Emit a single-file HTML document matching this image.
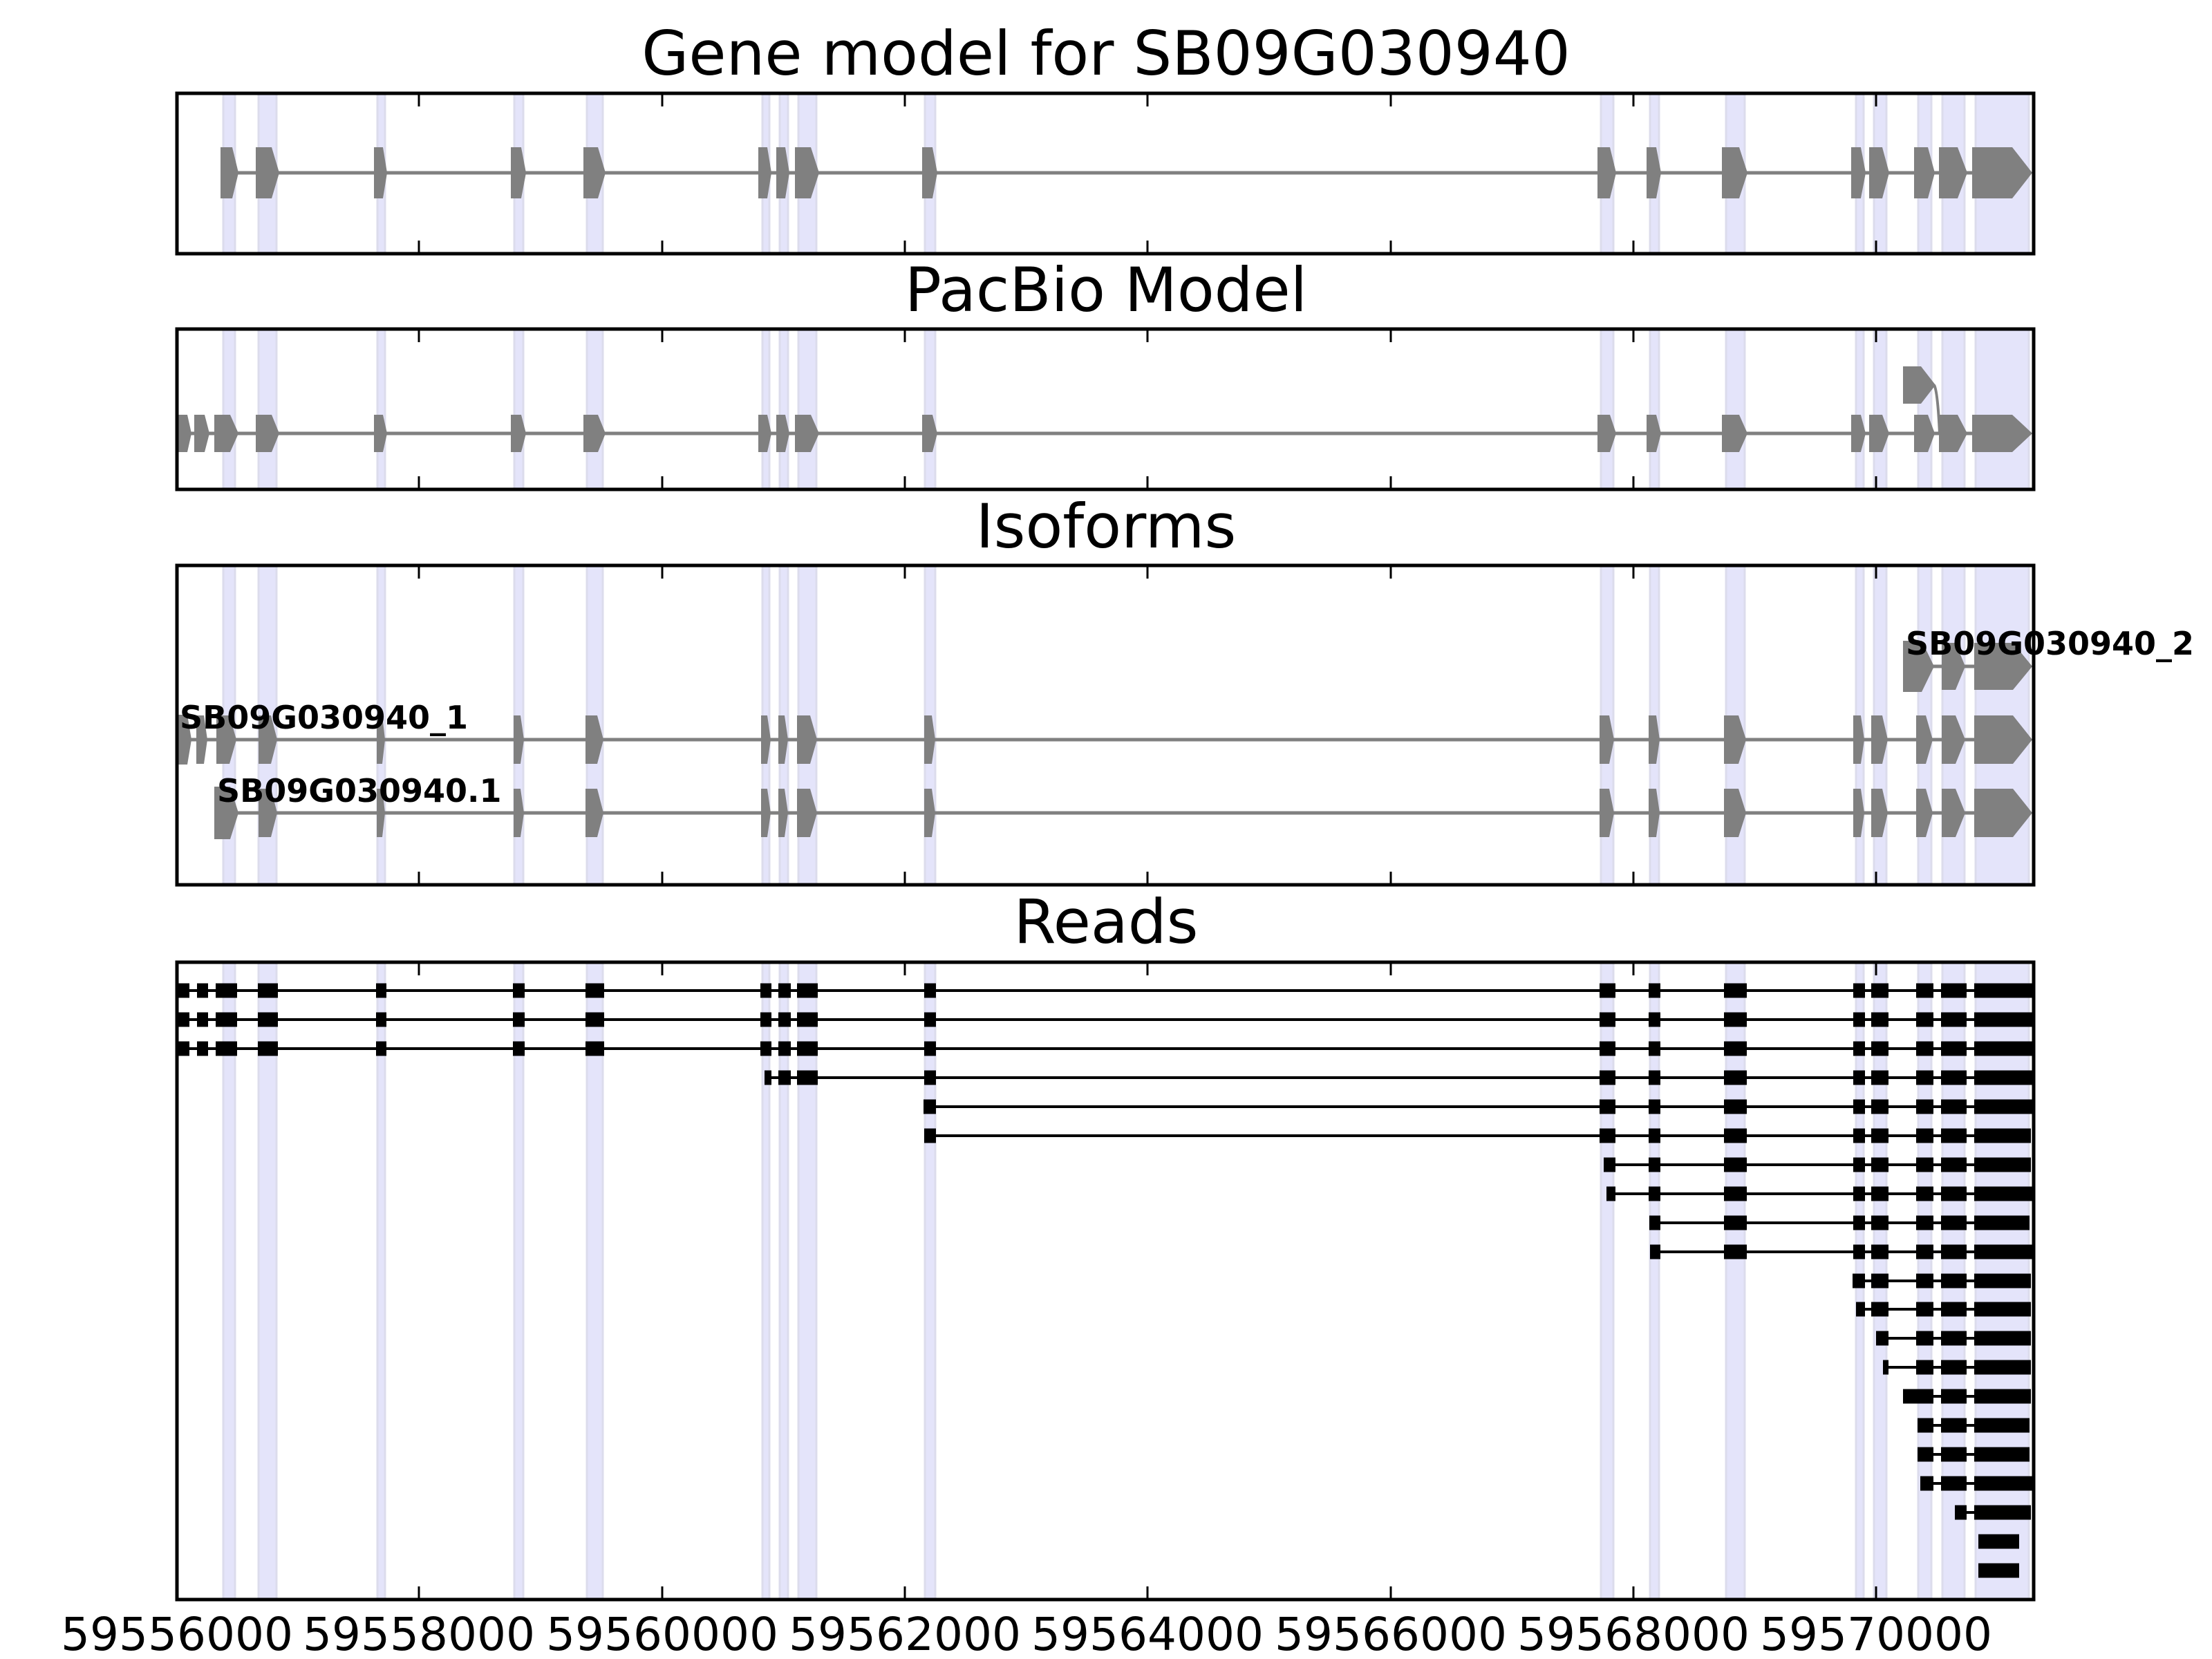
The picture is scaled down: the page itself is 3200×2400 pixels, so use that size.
<!DOCTYPE html>
<html><head><meta charset="utf-8"><style>
html,body{margin:0;padding:0;background:#fff;}
svg{display:block;}
.t{font-family:"DejaVu Sans","Liberation Sans",sans-serif;}
</style></head><body>
<svg width="3200" height="2400" viewBox="0 0 3200 2400" xmlns="http://www.w3.org/2000/svg">
<defs>
<g id="bands" fill="#e4e4fa" stroke="#dcdcec" stroke-width="3" vector-effect="non-scaling-stroke">
<rect x="323" y="0" width="17" height="1" vector-effect="non-scaling-stroke"/>
<rect x="374" y="0" width="26" height="1" vector-effect="non-scaling-stroke"/>
<rect x="546" y="0" width="11" height="1" vector-effect="non-scaling-stroke"/>
<rect x="744" y="0" width="13" height="1" vector-effect="non-scaling-stroke"/>
<rect x="849" y="0" width="23" height="1" vector-effect="non-scaling-stroke"/>
<rect x="1103" y="0" width="10" height="1" vector-effect="non-scaling-stroke"/>
<rect x="1128" y="0" width="12" height="1" vector-effect="non-scaling-stroke"/>
<rect x="1155" y="0" width="26" height="1" vector-effect="non-scaling-stroke"/>
<rect x="1338" y="0" width="15" height="1" vector-effect="non-scaling-stroke"/>
<rect x="2316" y="0" width="18" height="1" vector-effect="non-scaling-stroke"/>
<rect x="2387" y="0" width="13" height="1" vector-effect="non-scaling-stroke"/>
<rect x="2497" y="0" width="27" height="1" vector-effect="non-scaling-stroke"/>
<rect x="2685" y="0" width="11" height="1" vector-effect="non-scaling-stroke"/>
<rect x="2711" y="0" width="18" height="1" vector-effect="non-scaling-stroke"/>
<rect x="2775" y="0" width="19" height="1" vector-effect="non-scaling-stroke"/>
<rect x="2810" y="0" width="32" height="1" vector-effect="non-scaling-stroke"/>
<rect x="2858" y="0" width="77" height="1" vector-effect="non-scaling-stroke"/>
</g>
<g id="ticks" stroke="#000" stroke-width="3">
<line x1="606" y1="0" x2="606" y2="19"/><line x1="958" y1="0" x2="958" y2="19"/>
<line x1="1309" y1="0" x2="1309" y2="19"/><line x1="1660" y1="0" x2="1660" y2="19"/>
<line x1="2012" y1="0" x2="2012" y2="19"/><line x1="2363" y1="0" x2="2363" y2="19"/>
<line x1="2714" y1="0" x2="2714" y2="19"/>
</g>
<g id="ticksb" stroke="#000" stroke-width="3">
<line x1="606" y1="0" x2="606" y2="-19"/><line x1="958" y1="0" x2="958" y2="-19"/>
<line x1="1309" y1="0" x2="1309" y2="-19"/><line x1="1660" y1="0" x2="1660" y2="-19"/>
<line x1="2012" y1="0" x2="2012" y2="-19"/><line x1="2363" y1="0" x2="2363" y2="-19"/>
<line x1="2714" y1="0" x2="2714" y2="-19"/>
</g>
<g id="tG"><rect x="2808" y="-10.5" width="37" height="21"/></g>
<g id="tF"><rect x="2772" y="-10.5" width="25" height="21"/><use href="#tG"/></g>
<g id="tE"><rect x="2707" y="-10.5" width="25" height="21"/><use href="#tF"/></g>
<g id="tD"><rect x="2681" y="-10.5" width="17" height="21"/><use href="#tE"/></g>
<g id="tC"><rect x="2494" y="-10.5" width="33" height="21"/><use href="#tD"/></g>
<g id="tB"><rect x="2385" y="-10.5" width="17" height="21"/><use href="#tC"/></g>
<g id="tA"><rect x="2314" y="-10.5" width="23" height="21"/><use href="#tB"/></g>
<g id="tM"><rect x="1126" y="-10.5" width="18" height="21"/><rect x="1153" y="-10.5" width="30" height="21"/><rect x="1337" y="-10.5" width="17" height="21"/><use href="#tA"/></g>
<g id="tL"><rect x="258" y="-10.5" width="16" height="21"/><rect x="285" y="-10.5" width="16" height="21"/><rect x="312" y="-10.5" width="31" height="21"/><rect x="373" y="-10.5" width="29" height="21"/><rect x="544" y="-10.5" width="15" height="21"/><rect x="742" y="-10.5" width="17" height="21"/><rect x="847" y="-10.5" width="27" height="21"/><rect x="1100" y="-10.5" width="16" height="21"/><use href="#tM"/></g>
</defs>

<g class="t" font-size="88" text-anchor="middle" fill="#000">
<text x="1600" y="108">Gene model for SB09G030940</text>
<text x="1600" y="450">PacBio Model</text>
<text x="1600" y="792">Isoforms</text>
<text x="1600" y="1364">Reads</text>
</g>

<use href="#bands" transform="translate(0,135) scale(1,232)"/>
<line x1="319" y1="250" x2="2938" y2="250" stroke="#808080" stroke-width="5"/>
<g fill="#808080">
<polygon points="319,213 336,213 345,250 336,287 319,287"/>
<polygon points="370,213 393,213 404,250 393,287 370,287"/>
<polygon points="541,213 554,213 560,250 554,287 541,287"/>
<polygon points="739,213 754,213 761,250 754,287 739,287"/>
<polygon points="844,213 865,213 876,250 865,287 844,287"/>
<polygon points="1097,213 1110,213 1116,250 1110,287 1097,287"/>
<polygon points="1123,213 1136,213 1142,250 1136,287 1123,287"/>
<polygon points="1150,213 1173,213 1185,250 1173,287 1150,287"/>
<polygon points="1334,213 1349,213 1356,250 1349,287 1334,287"/>
<polygon points="2311,213 2329,213 2338,250 2329,287 2311,287"/>
<polygon points="2382,213 2396,213 2403,250 2396,287 2382,287"/>
<polygon points="2491,213 2516,213 2528,250 2516,287 2491,287"/>
<polygon points="2678,213 2692,213 2699,250 2692,287 2678,287"/>
<polygon points="2704,213 2723,213 2733,250 2723,287 2704,287"/>
<polygon points="2769,213 2789,213 2799,250 2789,287 2769,287"/>
<polygon points="2805,213 2832,213 2846,250 2832,287 2805,287"/>
<polygon points="2853,213 2911,213 2940,250 2911,287 2853,287"/>
</g>
<use href="#ticks" transform="translate(0,135)"/><use href="#ticksb" transform="translate(0,367)"/>
<rect x="256" y="135" width="2686" height="232" fill="none" stroke="#000" stroke-width="5"/>

<use href="#bands" transform="translate(0,476) scale(1,232)"/>
<line x1="258" y1="627" x2="2938" y2="627" stroke="#808080" stroke-width="5"/>
<path d="M2798,557 Q2803,565 2806,627" fill="none" stroke="#808080" stroke-width="4"/>
<g fill="#808080">
<polygon points="258,600 271,600 277,627 271,654 258,654"/>
<polygon points="281,600 296,600 303,627 296,654 281,654"/>
<polygon points="310,600 333,600 345,627 333,654 310,654"/>
<polygon points="370,600 393,600 404,627 393,654 370,654"/>
<polygon points="541,600 554,600 560,627 554,654 541,654"/>
<polygon points="739,600 754,600 761,627 754,654 739,654"/>
<polygon points="844,600 865,600 876,627 865,654 844,654"/>
<polygon points="1097,600 1110,600 1116,627 1110,654 1097,654"/>
<polygon points="1123,600 1136,600 1142,627 1136,654 1123,654"/>
<polygon points="1150,600 1173,600 1185,627 1173,654 1150,654"/>
<polygon points="1334,600 1349,600 1356,627 1349,654 1334,654"/>
<polygon points="2311,600 2329,600 2338,627 2329,654 2311,654"/>
<polygon points="2382,600 2396,600 2403,627 2396,654 2382,654"/>
<polygon points="2491,600 2516,600 2528,627 2516,654 2491,654"/>
<polygon points="2678,600 2692,600 2699,627 2692,654 2678,654"/>
<polygon points="2704,600 2723,600 2733,627 2723,654 2704,654"/>
<polygon points="2769,600 2789,600 2799,627 2789,654 2769,654"/>
<polygon points="2805,600 2832,600 2846,627 2832,654 2805,654"/>
<polygon points="2853,600 2911,600 2940,627 2911,654 2853,654"/>
<polygon points="2753,530 2779,530 2800,557 2779,584 2753,584"/>
</g>
<use href="#ticks" transform="translate(0,476)"/><use href="#ticksb" transform="translate(0,708)"/>
<rect x="256" y="476" width="2686" height="232" fill="none" stroke="#000" stroke-width="5"/>

<use href="#bands" transform="translate(0,818) scale(1,462)"/>
<g stroke="#808080" stroke-width="5">
<line x1="2753" y1="964" x2="2938" y2="964"/>
<line x1="258" y1="1070" x2="2938" y2="1070"/>
<line x1="310" y1="1176" x2="2938" y2="1176"/>
</g>
<g fill="#808080">
<polygon points="2753,927 2780,927 2798,964 2780,1001 2753,1001"/>
<polygon points="2809,930 2829,930 2843,964 2829,998 2809,998"/>
<polygon points="2856,930 2912,930 2940,964 2912,998 2856,998"/>
<polygon points="258,1034 271,1034 277,1070 271,1106 258,1106"/>
<polygon points="284,1035 295,1035 300,1070 295,1105 284,1105"/>
<polygon points="313,1035 332,1035 342,1070 332,1105 313,1105"/>
<polygon points="374,1035 392,1035 401,1070 392,1105 374,1105"/>
<polygon points="545,1035 553,1035 557,1070 553,1105 545,1105"/>
<polygon points="743,1035 753,1035 758,1070 753,1105 743,1105"/>
<polygon points="847,1035 864,1035 873,1070 864,1105 847,1105"/>
<polygon points="1101,1035 1110,1035 1115,1070 1110,1105 1101,1105"/>
<polygon points="1126,1035 1135,1035 1140,1070 1135,1105 1126,1105"/>
<polygon points="1153,1035 1172,1035 1182,1070 1172,1105 1153,1105"/>
<polygon points="1337,1035 1348,1035 1353,1070 1348,1105 1337,1105"/>
<polygon points="2314,1035 2328,1035 2335,1070 2328,1105 2314,1105"/>
<polygon points="2385,1035 2396,1035 2401,1070 2396,1105 2385,1105"/>
<polygon points="2494,1035 2515,1035 2526,1070 2515,1105 2494,1105"/>
<polygon points="2681,1035 2692,1035 2697,1070 2692,1105 2681,1105"/>
<polygon points="2707,1035 2723,1035 2731,1070 2723,1105 2707,1105"/>
<polygon points="2772,1035 2786,1035 2796,1070 2786,1105 2772,1105"/>
<polygon points="2809,1035 2829,1035 2843,1070 2829,1105 2809,1105"/>
<polygon points="2856,1035 2912,1035 2940,1070 2912,1105 2856,1105"/>
<polygon points="310,1138 333,1138 345,1176 333,1214 310,1214"/>
<polygon points="374,1141 392,1141 401,1176 392,1211 374,1211"/>
<polygon points="545,1141 553,1141 557,1176 553,1211 545,1211"/>
<polygon points="743,1141 753,1141 758,1176 753,1211 743,1211"/>
<polygon points="847,1141 864,1141 873,1176 864,1211 847,1211"/>
<polygon points="1101,1141 1110,1141 1115,1176 1110,1211 1101,1211"/>
<polygon points="1126,1141 1135,1141 1140,1176 1135,1211 1126,1211"/>
<polygon points="1153,1141 1172,1141 1182,1176 1172,1211 1153,1211"/>
<polygon points="1337,1141 1348,1141 1353,1176 1348,1211 1337,1211"/>
<polygon points="2314,1141 2328,1141 2335,1176 2328,1211 2314,1211"/>
<polygon points="2385,1141 2396,1141 2401,1176 2396,1211 2385,1211"/>
<polygon points="2494,1141 2515,1141 2526,1176 2515,1211 2494,1211"/>
<polygon points="2681,1141 2692,1141 2697,1176 2692,1211 2681,1211"/>
<polygon points="2707,1141 2723,1141 2731,1176 2723,1211 2707,1211"/>
<polygon points="2772,1141 2786,1141 2796,1176 2786,1211 2772,1211"/>
<polygon points="2809,1141 2829,1141 2843,1176 2829,1211 2809,1211"/>
<polygon points="2856,1141 2912,1141 2940,1176 2912,1211 2856,1211"/>
</g>
<g class="t" font-size="46" font-weight="bold" fill="#000">
<text x="2757" y="947">SB09G030940_2</text>
<text x="260" y="1054">SB09G030940_1</text>
<text x="314" y="1160">SB09G030940.1</text>
</g>
<use href="#ticks" transform="translate(0,818)"/><use href="#ticksb" transform="translate(0,1280)"/>
<rect x="256" y="818" width="2686" height="462" fill="none" stroke="#000" stroke-width="5"/>

<use href="#bands" transform="translate(0,1392) scale(1,922)"/>
<g fill="#000" stroke="#000">
<g transform="translate(0,1433)"><line x1="258" y1="0" x2="2940" y2="0" stroke-width="4"/><g stroke="none"><use href="#tL"/><rect x="2856" y="-10.5" width="84" height="21"/></g></g>
<g transform="translate(0,1475)"><line x1="258" y1="0" x2="2941" y2="0" stroke-width="4"/><g stroke="none"><use href="#tL"/><rect x="2856" y="-10.5" width="85" height="21"/></g></g>
<g transform="translate(0,1517)"><line x1="258" y1="0" x2="2941" y2="0" stroke-width="4"/><g stroke="none"><use href="#tL"/><rect x="2856" y="-10.5" width="85" height="21"/></g></g>
<g transform="translate(0,1559)"><line x1="1106" y1="0" x2="2941" y2="0" stroke-width="4"/><g stroke="none"><rect x="1106" y="-10.5" width="10" height="21"/><use href="#tM"/><rect x="2856" y="-10.5" width="85" height="21"/></g></g>
<g transform="translate(0,1601)"><line x1="1336" y1="0" x2="2941" y2="0" stroke-width="4"/><g stroke="none"><rect x="1336" y="-10.5" width="18" height="21"/><use href="#tA"/><rect x="2856" y="-10.5" width="85" height="21"/></g></g>
<g transform="translate(0,1643)"><line x1="1337" y1="0" x2="2938" y2="0" stroke-width="4"/><g stroke="none"><rect x="1337" y="-10.5" width="17" height="21"/><use href="#tA"/><rect x="2856" y="-10.5" width="82" height="21"/></g></g>
<g transform="translate(0,1685)"><line x1="2320" y1="0" x2="2938" y2="0" stroke-width="4"/><g stroke="none"><rect x="2320" y="-10.5" width="17" height="21"/><use href="#tB"/><rect x="2856" y="-10.5" width="82" height="21"/></g></g>
<g transform="translate(0,1727)"><line x1="2324" y1="0" x2="2941" y2="0" stroke-width="4"/><g stroke="none"><rect x="2324" y="-10.5" width="13" height="21"/><use href="#tB"/><rect x="2856" y="-10.5" width="85" height="21"/></g></g>
<g transform="translate(0,1769)"><line x1="2386" y1="0" x2="2936" y2="0" stroke-width="4"/><g stroke="none"><rect x="2386" y="-10.5" width="16" height="21"/><use href="#tC"/><rect x="2856" y="-10.5" width="80" height="21"/></g></g>
<g transform="translate(0,1811)"><line x1="2387" y1="0" x2="2941" y2="0" stroke-width="4"/><g stroke="none"><rect x="2387" y="-10.5" width="15" height="21"/><use href="#tC"/><rect x="2856" y="-10.5" width="85" height="21"/></g></g>
<g transform="translate(0,1853)"><line x1="2680" y1="0" x2="2938" y2="0" stroke-width="4"/><g stroke="none"><rect x="2680" y="-10.5" width="18" height="21"/><use href="#tE"/><rect x="2856" y="-10.5" width="82" height="21"/></g></g>
<g transform="translate(0,1894)"><line x1="2685" y1="0" x2="2938" y2="0" stroke-width="4"/><g stroke="none"><rect x="2685" y="-10.5" width="13" height="21"/><use href="#tE"/><rect x="2856" y="-10.5" width="82" height="21"/></g></g>
<g transform="translate(0,1936)"><line x1="2714" y1="0" x2="2938" y2="0" stroke-width="4"/><g stroke="none"><rect x="2714" y="-10.5" width="18" height="21"/><use href="#tF"/><rect x="2856" y="-10.5" width="82" height="21"/></g></g>
<g transform="translate(0,1978)"><line x1="2724" y1="0" x2="2938" y2="0" stroke-width="4"/><g stroke="none"><rect x="2724" y="-10.5" width="8" height="21"/><use href="#tF"/><rect x="2856" y="-10.5" width="82" height="21"/></g></g>
<g transform="translate(0,2020)"><line x1="2753" y1="0" x2="2938" y2="0" stroke-width="4"/><g stroke="none"><rect x="2753" y="-10.5" width="44" height="21"/><use href="#tG"/><rect x="2856" y="-10.5" width="82" height="21"/></g></g>
<g transform="translate(0,2062)"><line x1="2774" y1="0" x2="2936" y2="0" stroke-width="4"/><g stroke="none"><rect x="2774" y="-10.5" width="23" height="21"/><use href="#tG"/><rect x="2856" y="-10.5" width="80" height="21"/></g></g>
<g transform="translate(0,2104)"><line x1="2774" y1="0" x2="2936" y2="0" stroke-width="4"/><g stroke="none"><rect x="2774" y="-10.5" width="23" height="21"/><use href="#tG"/><rect x="2856" y="-10.5" width="80" height="21"/></g></g>
<g transform="translate(0,2146)"><line x1="2778" y1="0" x2="2941" y2="0" stroke-width="4"/><g stroke="none"><rect x="2778" y="-10.5" width="19" height="21"/><use href="#tG"/><rect x="2856" y="-10.5" width="85" height="21"/></g></g>
<g transform="translate(0,2188)"><line x1="2828" y1="0" x2="2938" y2="0" stroke-width="4"/><g stroke="none"><rect x="2828" y="-10.5" width="17" height="21"/><rect x="2856" y="-10.5" width="82" height="21"/></g></g>
<g transform="translate(0,2230)" stroke="none"><rect x="2862" y="-10.5" width="59" height="21"/></g>
<g transform="translate(0,2272)" stroke="none"><rect x="2862" y="-10.5" width="59" height="21"/></g>
</g>
<use href="#ticks" transform="translate(0,1392)"/><use href="#ticksb" transform="translate(0,2314)"/>
<rect x="256" y="1392" width="2686" height="922" fill="none" stroke="#000" stroke-width="5"/>

<g class="t" font-size="66" text-anchor="middle" fill="#000">
<text x="256" y="2387">59556000</text>
<text x="606" y="2387">59558000</text>
<text x="958" y="2387">59560000</text>
<text x="1309" y="2387">59562000</text>
<text x="1660" y="2387">59564000</text>
<text x="2012" y="2387">59566000</text>
<text x="2363" y="2387">59568000</text>
<text x="2714" y="2387">59570000</text>
</g>
</svg>
</body></html>
